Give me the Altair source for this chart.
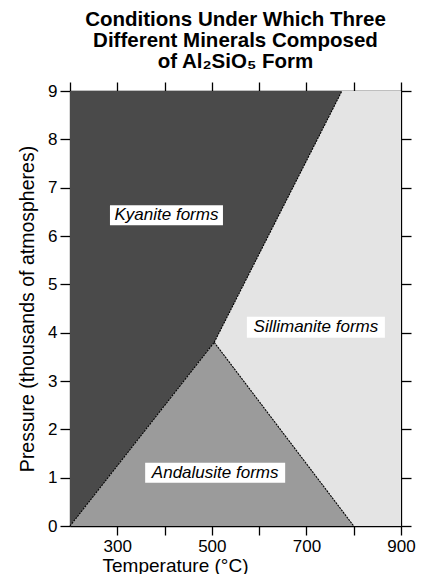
import altair as alt
import pandas as pd

# ---- data ----
temp_range = [200, 900]          # °C
pres_range = [0, 9]              # thousands of atmospheres

# phase boundaries (temperature, pressure)
ky_and_T = [200, 505]
ky_and_P = [0.0, 3.8]
ky_sil_T = [505, 775]
ky_sil_P = [3.8, 9.0]
and_sil_T = [505, 800]
and_sil_P = [3.8, 0.0]

labels = ["Kyanite forms", "Sillimanite forms", "Andalusite forms"]
label_T = [404, 720, 507]
label_P = [6.43, 4.11, 1.10]

x_ticks_bottom = [300, 400, 500, 600, 700, 800, 900]
x_ticks_top = [200, 300, 400, 500, 600, 700, 800, 900]
y_ticks = [0, 1, 2, 3, 4, 5, 6, 7, 8, 9]

title_lines = ["Conditions Under Which Three", "Different Minerals Composed", "of Al\u2082SiO\u2085 Form"]

# ---- tables ----
bg = pd.DataFrame({"T": [temp_range[0]], "T2": [temp_range[1]],
                   "P": [pres_range[0]], "P2": [pres_range[1]]})

ky_T = ky_and_T + ky_sil_T[1:]
ky_P = ky_and_P + ky_sil_P[1:]
kyanite = pd.DataFrame({"T": ky_T, "P": ky_P, "P2": [pres_range[1]] * len(ky_T)})

an_T = ky_and_T + and_sil_T[1:]
an_P = ky_and_P + and_sil_P[1:]
andal = pd.DataFrame({"T": an_T, "P": [pres_range[0]] * len(an_T), "P2": an_P})

bounds = pd.concat([
    pd.DataFrame({"T": ky_and_T, "P": ky_and_P, "seg": "ky-and"}),
    pd.DataFrame({"T": ky_sil_T, "P": ky_sil_P, "seg": "ky-sil"}),
    pd.DataFrame({"T": and_sil_T, "P": and_sil_P, "seg": "and-sil"}),
])

lab = pd.DataFrame({"label": labels, "T": label_T, "P": label_P})

FONT = "Liberation Sans"
xs = alt.Scale(domain=temp_range, nice=False, zero=False)
ys = alt.Scale(domain=pres_range, nice=False, zero=False)

axis_common = dict(domainColor="black", tickColor="black", domainWidth=1.3, tickWidth=1.3,
                   grid=False, labelColor="black", titleColor="black",
                   labelFont=FONT, titleFont=FONT)

x_bottom = alt.Axis(orient="bottom", values=x_ticks_bottom,
                    labelExpr="datum.value % 200 == 100 ? datum.label : ''",
                    tickSize=9, labelFontSize=17, labelPadding=3,
                    title="Temperature (\u00b0C)", titleFontSize=19, titleFontWeight=500,
                    titleX=105, titleY=45, titleAlign="center", titleBaseline="alphabetic",
                    labelFlush=False, **axis_common)
y_left = alt.Axis(orient="left", values=y_ticks, tickSize=10, labelFontSize=17, labelPadding=3,
                  title="Pressure (thousands of atmospheres)", titleFontSize=19.5,
                  titleFontWeight="normal", titleAngle=270, titleX=-37, titleY=217.5,
                  titleAlign="center", titleBaseline="alphabetic", labelFlush=False,
                  **axis_common)
x_top = alt.Axis(orient="top", values=x_ticks_top, tickSize=9, labels=False, title=None,
                 **axis_common)
y_right = alt.Axis(orient="right", values=y_ticks, tickSize=10, labels=False, title=None,
                   **axis_common)

sil_layer = alt.Chart(bg).mark_rect(color="#e4e4e4").encode(
    x=alt.X("T:Q", scale=xs, axis=x_bottom),
    x2="T2:Q",
    y=alt.Y("P:Q", scale=ys, axis=y_left),
    y2="P2:Q",
)

ky_layer = alt.Chart(kyanite).mark_area(color="#4a4a4a", opacity=1, line=False).encode(
    x=alt.X("T:Q", scale=xs, axis=None),
    y=alt.Y("P:Q", scale=ys, axis=None, stack=None),
    y2=alt.Y2("P2:Q"),
)

an_layer = alt.Chart(andal).mark_area(color="#9b9b9b", opacity=1, line=False).encode(
    x=alt.X("T:Q", scale=xs, axis=None),
    y=alt.Y("P:Q", scale=ys, axis=None, stack=None),
    y2=alt.Y2("P2:Q"),
)

line_layer = alt.Chart(bounds).mark_line(color="black", strokeWidth=1.1, strokeDash=[2, 1]).encode(
    x=alt.X("T:Q", scale=xs, axis=x_top),
    y=alt.Y("P:Q", scale=ys, axis=y_right),
    detail="seg:N",
)

box_shapes = {
    "Kyanite forms": "M-5.65,-1H5.65V1H-5.65Z",
    "Sillimanite forms": "M-6.9,-1.05H6.9V1.05H-6.9Z",
    "Andalusite forms": "M-7,-1H7V1H-7Z",
}
box_layers = []
for name, path in box_shapes.items():
    box_layers.append(
        alt.Chart(lab).transform_filter(alt.datum.label == name).mark_point(
            shape=path, size=400, filled=True, fill="white", opacity=1, strokeWidth=0
        ).encode(
            x=alt.X("T:Q", scale=xs, axis=None),
            y=alt.Y("P:Q", scale=ys, axis=None),
        )
    )

text_layer = alt.Chart(lab).mark_text(
    font=FONT, fontStyle="italic", fontSize=17, color="black",
    align="center", baseline="middle", dy=0
).encode(
    x=alt.X("T:Q", scale=xs, axis=None),
    y=alt.Y("P:Q", scale=ys, axis=None),
    text="label:N",
)

chart = alt.layer(sil_layer, ky_layer, an_layer, line_layer, *box_layers, text_layer).resolve_axis(
    x="independent", y="independent"
).properties(
    width=331, height=435,
    padding={"left": 62, "top": 83, "right": 20, "bottom": 48},
    autosize=alt.AutoSizeParams(type="none"),
    title=alt.TitleParams(text=title_lines, font=FONT, fontSize=20.5, fontWeight="bold",
                          lineHeight=21, anchor="middle", offset=9, color="black"),
).configure_view(stroke=None).configure(background="white")

chart.save("out.html", embed_options={"renderer": "svg", "actions": False})
